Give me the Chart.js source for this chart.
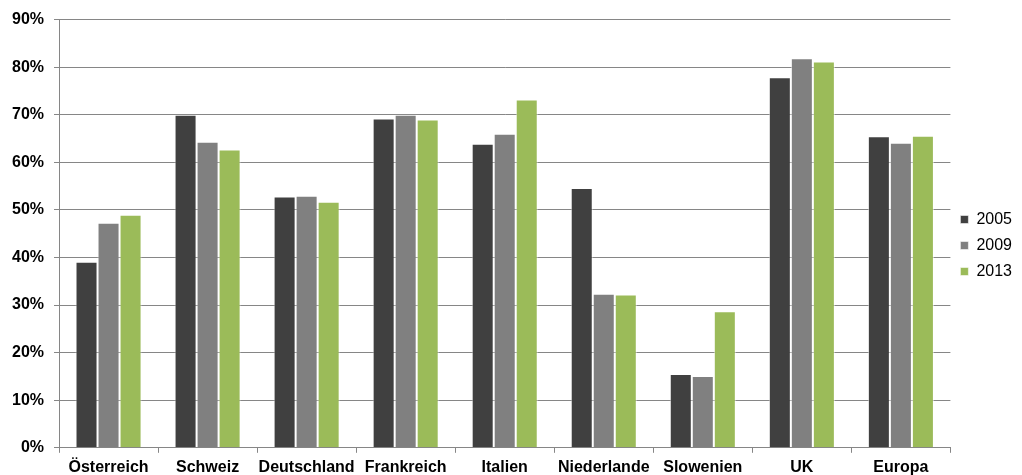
<!DOCTYPE html>
<html>
<head>
<meta charset="utf-8">
<script src="https://cdn.jsdelivr.net/npm/chart.js@4/dist/chart.umd.min.js"></script>
<style>
  html, body { margin: 0; padding: 0; background: #ffffff; }
  #wrap { width: 1022px; height: 475px; }
</style>
</head>
<body>
<div id="wrap"><canvas id="chart" width="1022" height="475"></canvas></div>
<script>
// Länder / Regionen
const categories = ['Österreich', 'Schweiz', 'Deutschland', 'Frankreich', 'Italien', 'Niederlande', 'Slowenien', 'UK', 'Europa'];

// Anteile in Prozent je Jahr
const values2005 = [39.1, 70.0, 52.8, 69.2, 63.9, 54.6, 15.5, 77.9, 65.5];
const values2009 = [47.3, 64.3, 53.0, 70.0, 66.0, 32.4, 15.1, 81.9, 64.1];
const values2013 = [49.0, 62.7, 51.7, 69.0, 73.2, 32.2, 28.7, 81.2, 65.6];

const seriesLabels = ['2005', '2009', '2013'];
const seriesColors = ['#404040', '#808080', '#9bbb59'];

// Achsenbereich in Prozent
const yMin = 0;
const yMax = 90;
const yStep = 10;

const FONT = "'Liberation Sans', Arial, sans-serif";

const datasets = [values2005, values2009, values2013].map((vals, i) => ({
  label: seriesLabels[i],
  data: vals,
  backgroundColor: seriesColors[i],
  borderColor: 'rgba(255,255,255,0.55)',
  borderWidth: 1,
  categoryPercentage: 0.667,
  barPercentage: 1.0
}));

new Chart(document.getElementById('chart'), {
  type: 'bar',
  data: { labels: categories, datasets },
  options: {
    responsive: false,
    animation: false,
    layout: { padding: { top: 9, right: 0, left: 2, bottom: -7 } },
    plugins: {
      tooltip: { enabled: false },
      legend: {
        position: 'right',
        align: 'center',
        labels: {
          boxWidth: 8,
          boxHeight: 8,
          padding: 10,
          color: '#000000',
          font: { family: FONT, size: 16 }
        }
      }
    },
    scales: {
      x: {
        grid: {
          offset: true,
          drawOnChartArea: false,
          drawTicks: true,
          tickLength: 5,
          color: '#868686'
        },
        border: { color: '#868686', width: 1 },
        ticks: {
          color: '#000000',
          padding: 5,
          maxRotation: 0,
          autoSkip: false,
          font: { family: FONT, size: 16, weight: 'bold' }
        }
      },
      y: {
        min: yMin,
        max: yMax,
        grid: {
          color: '#868686',
          lineWidth: 1,
          tickLength: 5
        },
        border: { color: '#868686', width: 1 },
        ticks: {
          stepSize: yStep,
          color: '#000000',
          padding: 10,
          font: { family: FONT, size: 16, weight: 'bold' },
          callback: v => v + '%'
        }
      }
    }
  }
});
</script>
</body>
</html>
